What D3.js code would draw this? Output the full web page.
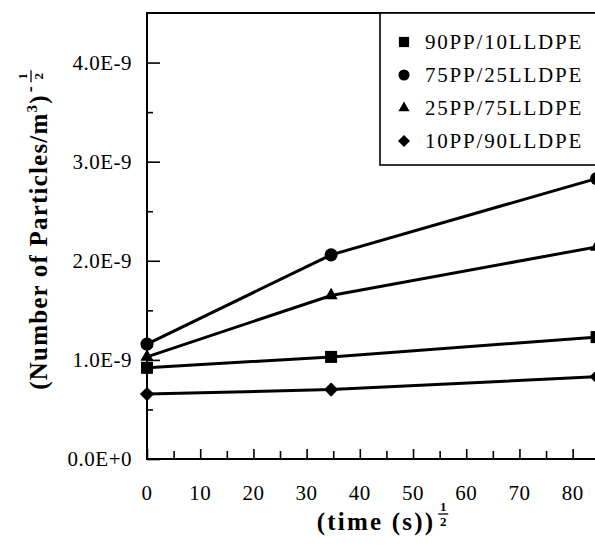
<!DOCTYPE html>
<html>
<head>
<meta charset="utf-8">
<script src="https://cdn.jsdelivr.net/npm/d3@7"></script>
<style>
body { margin: 0; background: #fff; }
text { font-family: "Liberation Serif", "Times New Roman", serif; fill: #000; }
</style>
</head>
<body>
<script>
// data
var timeRoot = [0, 34.6, 84.5];
var series90PP = [0.92e-9, 1.03e-9, 1.23e-9];
var series75PP = [1.16e-9, 2.06e-9, 2.83e-9];
var series25PP = [1.03e-9, 1.65e-9, 2.14e-9];
var series10PP = [0.655e-9, 0.70e-9, 0.83e-9];
var seriesNames = ["90PP/10LLDPE", "75PP/25LLDPE", "25PP/75LLDPE", "10PP/90LLDPE"];
var seriesSymbols = ["square", "circle", "triangle", "diamond"];
var xTicks = [0, 10, 20, 30, 40, 50, 60, 70, 80];
var yTicks = [0, 1e-9, 2e-9, 3e-9, 4e-9];

var allSeries = [series90PP, series75PP, series25PP, series10PP];

var W = 595, H = 552;
var svg = d3.select("body").append("svg")
    .attr("width", W)
    .attr("height", H);

var x = d3.scaleLinear().domain([0, 84.2]).range([147, 595]);
var y = d3.scaleLinear().domain([0, 4.5e-9]).range([459, 13]);

function fmtE(v) {
    if (v == 0) return "0.0E+0";
    var e = Math.floor(Math.log10(v) + 1e-9);
    return (v / Math.pow(10, e)).toFixed(1) + "E" + e;
}

// frame: left axis, bottom axis, top line
svg.append("line").attr("x1", 147).attr("x2", 147).attr("y1", 13).attr("y2", 459)
    .attr("stroke", "#000").attr("stroke-width", 2);
svg.append("line").attr("x1", 146).attr("x2", W).attr("y1", 459).attr("y2", 459)
    .attr("stroke", "#000").attr("stroke-width", 2);
svg.append("line").attr("x1", 146).attr("x2", W).attr("y1", 13).attr("y2", 13)
    .attr("stroke", "#000").attr("stroke-width", 2);

// y ticks (inward)
var yAxis = d3.axisRight(y).tickValues(yTicks).tickSize(13).tickFormat("");
svg.append("g").attr("transform", "translate(147,0)").call(yAxis)
    .call(g => g.select(".domain").remove())
    .selectAll("line").attr("stroke-width", 1.6);
var yMinor = d3.axisRight(y).tickValues([0.5e-9, 1.5e-9, 2.5e-9, 3.5e-9]).tickSize(6).tickFormat("");
svg.append("g").attr("transform", "translate(147,0)").call(yMinor)
    .call(g => g.select(".domain").remove())
    .selectAll("line").attr("stroke-width", 1.6);

svg.selectAll(".ylab").data(yTicks).enter().append("text")
    .attr("x", 132).attr("y", d => y(d) + 7)
    .attr("text-anchor", "end")
    .attr("font-size", 21).attr("letter-spacing", 0.5)
    .text(fmtE);

// x ticks (inward)
var xAxis = d3.axisTop(x).tickValues(xTicks).tickSize(10).tickFormat("");
svg.append("g").attr("transform", "translate(0,459)").call(xAxis)
    .call(g => g.select(".domain").remove())
    .selectAll("line").attr("stroke-width", 1.6);
var xMinor = d3.axisTop(x).tickValues([5, 15, 25, 35, 45, 55, 65, 75]).tickSize(8).tickFormat("");
svg.append("g").attr("transform", "translate(0,459)").call(xMinor)
    .call(g => g.select(".domain").remove())
    .selectAll("line").attr("stroke-width", 1.6);

svg.selectAll(".xlab").data(xTicks).enter().append("text")
    .attr("x", d => x(d)).attr("y", 500)
    .attr("text-anchor", "middle")
    .attr("font-size", 21).attr("letter-spacing", 0.5)
    .text(d => d);

// series lines
var line = d3.line().x((d, i) => x(timeRoot[i])).y(d => y(d));
allSeries.forEach(function (s) {
    svg.append("path").attr("d", line(s))
        .attr("fill", "none").attr("stroke", "#000").attr("stroke-width", 3);
});

// markers (diamond = square turned 45deg, wider than d3's diamond)
var symTypes = { square: d3.symbolSquare, circle: d3.symbolCircle, triangle: d3.symbolTriangle, diamond: d3.symbolSquare };
var symSizes = { square: 145, circle: 135, triangle: 75, diamond: 100 };
function drawSymbol(g, kind, cx, cy, scale) {
    g.append("path")
        .attr("d", d3.symbol().type(symTypes[kind]).size(symSizes[kind] * (scale || 1))())
        .attr("transform", "translate(" + cx + "," + cy + ")" + (kind == "diamond" ? " rotate(45)" : ""))
        .attr("fill", "#000");
}
allSeries.forEach(function (s, k) {
    s.forEach(function (v, i) {
        drawSymbol(svg, seriesSymbols[k], x(timeRoot[i]), y(v));
    });
});

// legend
var leg = svg.append("g");
leg.append("rect").attr("x", 380).attr("y", 13).attr("width", 230).attr("height", 152)
    .attr("fill", "#fff").attr("stroke", "#000").attr("stroke-width", 1.6);
seriesNames.forEach(function (nm, i) {
    var ry = 42 + i * 33;
    drawSymbol(leg, seriesSymbols[i], 404, ry, 0.72);
    leg.append("text").attr("x", 425).attr("y", ry + 7)
        .attr("font-size", 21).attr("letter-spacing", 1.8)
        .text(nm);
});

// x axis title with 1/2 exponent
var xt = svg.append("text").attr("x", 376).attr("y", 530)
    .attr("text-anchor", "middle")
    .attr("font-size", 25).attr("font-weight", "bold").attr("letter-spacing", 2.2)
    .text("(time (s))");
var xtw = xt.node().getComputedTextLength();
var fx = 376 + xtw / 2 + 8;
svg.append("text").attr("x", fx).attr("y", 511).attr("text-anchor", "middle")
    .attr("font-size", 13).attr("font-weight", "bold").text("1");
svg.append("line").attr("x1", fx - 5).attr("x2", fx + 5).attr("y1", 514).attr("y2", 514)
    .attr("stroke", "#000").attr("stroke-width", 1.3);
svg.append("text").attr("x", fx).attr("y", 526).attr("text-anchor", "middle")
    .attr("font-size", 13).attr("font-weight", "bold").text("2");

// y axis title, rotated
var yg = svg.append("g").attr("transform", "translate(47,229) rotate(-90)");
var yt = yg.append("text").attr("x", 0).attr("y", 0)
    .attr("font-size", 25).attr("font-weight", "bold").attr("letter-spacing", 1.2);
yt.append("tspan").text("(Number of Particles/m");
yt.append("tspan").attr("dy", -10).attr("font-size", 15).text("3");
yt.append("tspan").attr("dy", 10).text(")");
var ytw = yt.node().getComputedTextLength();
var x0 = -(ytw + 26) / 2;
yt.attr("x", x0);
var ex = x0 + ytw;
yg.append("text").attr("x", ex + 2).attr("y", -11)
    .attr("font-size", 18).attr("font-weight", "bold").text("-");
yg.append("text").attr("x", ex + 18).attr("y", -20).attr("text-anchor", "middle")
    .attr("font-size", 13).attr("font-weight", "bold").text("1");
yg.append("line").attr("x1", ex + 12).attr("x2", ex + 24).attr("y1", -16).attr("y2", -16)
    .attr("stroke", "#000").attr("stroke-width", 1.3);
yg.append("text").attr("x", ex + 18).attr("y", -4).attr("text-anchor", "middle")
    .attr("font-size", 13).attr("font-weight", "bold").text("2");
</script>
</body>
</html>
